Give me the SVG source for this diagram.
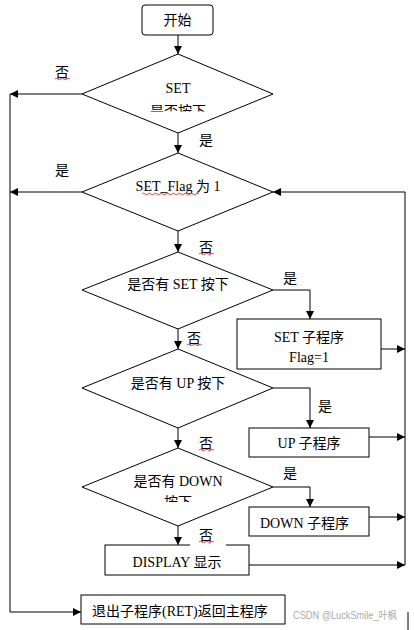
<svg xmlns="http://www.w3.org/2000/svg" width="414" height="630" viewBox="0 0 414 630">
<style>
.s{fill:#fff;stroke:#000;stroke-width:1}
.l{fill:none;stroke:#000;stroke-width:1}
text{font-family:"Liberation Serif","Noto Sans CJK SC",serif;font-size:14px;fill:#000}
.c{text-anchor:middle}
.w{fill:none;stroke:#e00;stroke-width:0.8}
.wm{font-family:"Liberation Sans","Noto Sans CJK SC",sans-serif;font-size:10.5px;fill:#aaa}
</style>
<defs>
<marker id="a" viewBox="0 0 10 10" refX="10" refY="5" markerWidth="8" markerHeight="8" markerUnits="userSpaceOnUse" orient="auto">
<path d="M0,0 L10,5 L0,10 Z" fill="#000"/>
</marker>
<clipPath id="c1"><rect x="0" y="0" width="414" height="111.5"/></clipPath>
<clipPath id="c5"><rect x="0" y="0" width="414" height="502"/></clipPath>
</defs>
<rect width="414" height="630" fill="#fff"/>
<g id="connectors">
<path class="l" d="M178,35 V54" marker-end="url(#a)"/>
<path class="l" d="M82,94 H10" marker-end="url(#a)"/>
<path class="l" d="M178,133 V153" marker-end="url(#a)"/>
<path class="l" d="M82,192 H10" marker-end="url(#a)"/>
<path class="l" d="M10,94 V612 H81" marker-end="url(#a)"/>
<path class="l" d="M405,192 H273" marker-end="url(#a)"/>
<path class="l" d="M405,192 V565"/>
<path class="l" d="M178,231 V252" marker-end="url(#a)"/>
<path class="l" d="M273,290 H310 V319" marker-end="url(#a)"/>
<path class="l" d="M381,349 H405" marker-end="url(#a)"/>
<path class="l" d="M178,329 V349" marker-end="url(#a)"/>
<path class="l" d="M273,388 H310 V428" marker-end="url(#a)"/>
<path class="l" d="M369,437 H405" marker-end="url(#a)"/>
<path class="l" d="M178,428 V448" marker-end="url(#a)"/>
<path class="l" d="M273,487 H310 V507" marker-end="url(#a)"/>
<path class="l" d="M369,517 H405" marker-end="url(#a)"/>
<path class="l" d="M178,526 V545" marker-end="url(#a)"/>
<path class="l" d="M249,565 H405" marker-end="url(#a)"/>
<path class="l" d="M408,612 V630"/>
</g>
<g id="start">
<rect class="s" x="142" y="5" width="71" height="30" rx="3"/>
<text class="c" x="177.5" y="25">开始</text>
</g>
<g id="d1">
<polygon class="s" points="178,54 273,94 178,133 82,94"/>
<text class="c" x="178" y="93">SET</text>
<text class="c" x="178" y="116" clip-path="url(#c1)">是否按下</text>
</g>
<g id="d2">
<polygon class="s" points="178,153 273,192 178,231 82,192"/>
<text class="c" x="178" y="191">SET_Flag 为 1</text>
<path class="w" d="M142,194 q1.5,-1.5 3,0 t3,0 t3,0 t3,0 t3,0 t3,0 t3,0 t3,0 t3,0 t3,0 t3,0 t3,0 t3,0 t3,0 t3,0 t3,0 t3,0 t3,0 t3,0"/>
</g>
<g id="d3">
<polygon class="s" points="178,252 273,290 178,329 82,290"/>
<text class="c" x="178" y="289">是否有 SET 按下</text>
</g>
<g id="setsub">
<rect class="s" x="237" y="319" width="144" height="50"/>
<text class="c" x="309" y="342">SET 子程序</text>
<text class="c" x="309" y="362">Flag=1</text>
</g>
<g id="d4">
<polygon class="s" points="178,349 273,388 178,428 82,388"/>
<text class="c" x="178" y="388">是否有 UP 按下</text>
</g>
<g id="upsub">
<rect class="s" x="249" y="428" width="120" height="29"/>
<text class="c" x="309" y="448">UP 子程序</text>
</g>
<g id="d5">
<polygon class="s" points="178,448 273,487 178,526 82,487"/>
<text class="c" x="178" y="486">是否有 DOWN</text>
<text class="c" x="178" y="507" clip-path="url(#c5)">按下</text>
</g>
<g id="downsub">
<rect class="s" x="249" y="507" width="120" height="29"/>
<text x="260" y="528">DOWN 子程序</text>
</g>
<g id="display">
<rect class="s" x="105" y="545" width="144" height="30"/>
<text class="c" x="177" y="567">DISPLAY 显示</text>
</g>
<g id="exit">
<rect class="s" x="81" y="595" width="204" height="29"/>
<text x="92" y="616">退出子程序(RET)返回主程序</text>
</g>
<g id="labels">
<text x="55" y="77">否</text>
<path class="w" d="M55,79 q1.5,-1.5 3,0 t3,0 t3,0 t3,0 t3,0"/>
<text x="199" y="145">是</text>
<text x="55" y="175">是</text>
<text x="199" y="252">否</text>
<path class="w" d="M199,254 q1.5,-1.5 3,0 t3,0 t3,0 t3,0 t3,0"/>
<text x="283" y="283">是</text>
<text x="187" y="343">否</text>
<path class="w" d="M187,345 q1.5,-1.5 3,0 t3,0 t3,0 t3,0 t3,0"/>
<text x="318" y="411">是</text>
<text x="199" y="448">否</text>
<path class="w" d="M199,450 q1.5,-1.5 3,0 t3,0 t3,0 t3,0 t3,0"/>
<text x="283" y="478">是</text>
<rect x="190" y="530" width="36" height="17" fill="#fff"/>
<text x="199" y="540">否</text>
<path class="w" d="M199,542 q1.5,-1.5 3,0 t3,0 t3,0 t3,0 t3,0"/>
</g>
<text class="wm" x="293" y="619" textLength="104" lengthAdjust="spacingAndGlyphs">CSDN @LuckSmile_叶枫</text>
</svg>
